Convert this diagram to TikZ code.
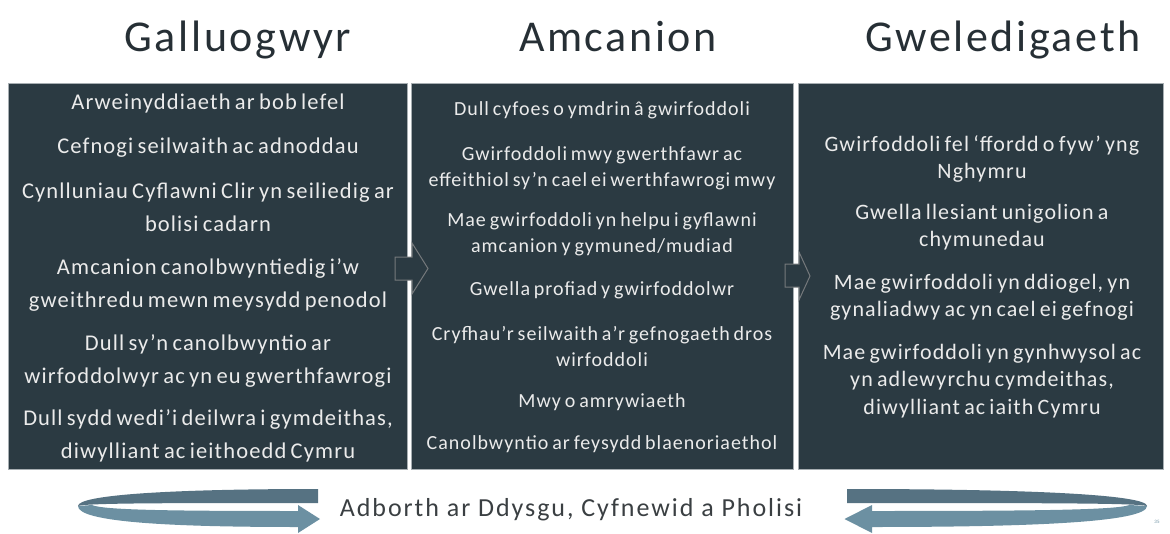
\documentclass[tikz,border=0pt]{standalone}
\usepackage{fontspec}
\setmainfont{Carlito}
\newfontfamily\titlefont[LetterSpace=6]{Carlito}
\newfontfamily\panelfont[LetterSpace=5, WordSpace=0.7]{Carlito}
\newfontfamily\feedfont[LetterSpace=7.5]{Carlito}
\usepackage{xcolor}
\usepackage{tikz}
\usetikzlibrary{positioning,calc}
\definecolor{panelfill}{HTML}{2B3A42}
\definecolor{panelrim}{HTML}{A7AEB2}
\definecolor{arrowrim}{HTML}{75797C}
\definecolor{headtext}{HTML}{262F35}
\definecolor{feedtext}{HTML}{3A3F42}
\definecolor{loopdark}{HTML}{567282}
\definecolor{looplight}{HTML}{6C90A2}
\tikzset{
  panel/.style={draw=panelrim, line width=1.4pt, fill=panelfill, inner sep=0pt, anchor=north west},
  heading/.style={font=\titlefont\fontsize{44}{50}\selectfont, text=headtext, anchor=base},
  itemA/.style={align=center, text=white!92!black, font=\panelfont\fontsize{22.5}{33}\selectfont},
  itemB/.style={align=center, text=white!92!black, font=\panelfont\fontsize{20}{26}\selectfont},
  itemC/.style={align=center, text=white!92!black, font=\panelfont\fontsize{22}{27.5}\selectfont},
  blockarrow/.style={draw=arrowrim, fill=panelfill, line width=1pt, line join=miter}
}
\begin{document}
\begin{tikzpicture}[x=1pt, y=-1pt]
    \useasboundingbox (0,0) rectangle (1170,533);
    \node[panel, minimum width=399pt, minimum height=386pt] (galluogwyr) at (8,83) {};
    \node[panel, minimum width=382pt, minimum height=386pt] (amcanion) at (411,83) {};
    \node[panel, minimum width=365pt, minimum height=386pt] (gweledigaeth) at (798,83) {};
    \node[heading] (headA) at (238,51) {Galluogwyr};
    \node[heading] (headB) at (618,51) {Amcanion};
    \node[heading] (headC) at (1003,51) {Gweledigaeth};
    \draw[blockarrow] (395,257) -- (412,257) -- (412,243) -- (428,268.5) -- (412,294) -- (412,280) -- (395,280) -- cycle;
    \draw[blockarrow] (785,264) -- (799,264) -- (799,252) -- (810,276) -- (799,300) -- (799,287) -- (785,287) -- cycle;
    \node[itemA] (a1) at (208,103) {Arweinyddiaeth ar bob lefel};
    \node[itemA] (a2) at (208,148) {Cefnogi seilwaith ac adnoddau};
    \node[itemA] (a3) at (208,207) {Cynlluniau Cyflawni Clir yn seiliedig ar\\bolisi cadarn};
    \node[itemA] (a4) at (208,285) {Amcanion canolbwyntiedig i’w\\gweithredu mewn meysydd penodol};
    \node[itemA] (a5) at (208,361) {Dull sy’n canolbwyntio ar\\wirfoddolwyr ac yn eu gwerthfawrogi};
    \node[itemA] (a6) at (208,436) {Dull sydd wedi’i deilwra i gymdeithas,\\diwylliant ac ieithoedd Cymru};
    \node[itemB] (b1) at (602,110) {Dull cyfoes o ymdrin â gwirfoddoli};
    \node[itemB] (b2) at (602,168) {Gwirfoddoli mwy gwerthfawr ac\\effeithiol sy’n cael ei werthfawrogi mwy};
    \node[itemB] (b3) at (602,234) {Mae gwirfoddoli yn helpu i gyflawni\\amcanion y gymuned/mudiad};
    \node[itemB] (b4) at (602,290) {Gwella profiad y gwirfoddolwr};
    \node[itemB] (b5) at (602,347) {Cryfhau’r seilwaith a’r gefnogaeth dros\\wirfoddoli};
    \node[itemB] (b6) at (602,402) {Mwy o amrywiaeth};
    \node[itemB] (b7) at (602,444) {Canolbwyntio ar feysydd blaenoriaethol};
    \node[itemC] (c1) at (982,159) {Gwirfoddoli fel ‘ffordd o fyw’ yng\\Nghymru};
    \node[itemC] (c2) at (982,227) {Gwella llesiant unigolion a\\chymunedau};
    \node[itemC] (c3) at (982,297) {Mae gwirfoddoli yn ddiogel, yn\\gynaliadwy ac yn cael ei gefnogi};
    \node[itemC] (c4) at (982,381) {Mae gwirfoddoli yn gynhwysol ac\\yn adlewyrchu cymdeithas,\\diwylliant ac iaith Cymru};
    \begin{scope}[shift={(318,0)}]
        \fill[looplight] (-240,506) .. controls (-240,522) and (-150,527) .. (-20,527) -- (-20,533) -- (2,519) -- (-20,505) -- (-20,511) .. controls (-150,511) and (-215,510) .. (-226,505) -- cycle;
        \fill[loopdark] (0,489) .. controls (-150,489) and (-240,495) .. (-240,506) .. controls (-232,503) and (-150,503) .. (0,503) -- cycle;
    \end{scope}
    \begin{scope}[shift={(847,0)}, xscale=-1.25]
        \fill[looplight] (-240,506) .. controls (-240,522) and (-150,527) .. (-20,527) -- (-20,533) -- (2,519) -- (-20,505) -- (-20,511) .. controls (-150,511) and (-215,510) .. (-226,505) -- cycle;
        \fill[loopdark] (0,489) .. controls (-150,489) and (-240,495) .. (-240,506) .. controls (-232,503) and (-150,503) .. (0,503) -- cycle;
    \end{scope}
    \node[font=\feedfont\fontsize{26}{30}\selectfont, text=feedtext] (feedback) at (571,510) {Adborth ar Ddysgu, Cyfnewid a Pholisi};
    \node[font=\fontsize{5}{6}\selectfont, text=looplight] (slideno) at (1157,522) {35};
\end{tikzpicture}
\end{document}
